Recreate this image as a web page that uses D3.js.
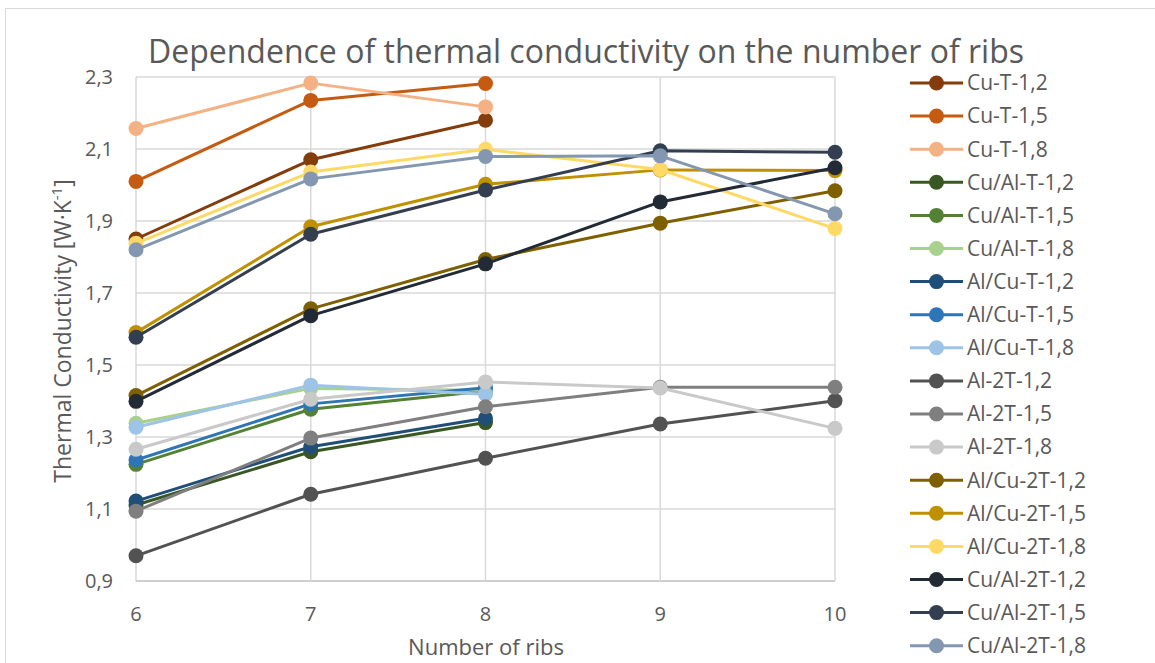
<!DOCTYPE html>
<html>
<head>
<meta charset="utf-8">
<script src="https://cdn.jsdelivr.net/npm/d3@7"></script>
<style>
body { margin: 0; background: #fff; }
text { font-family: "Open Sans", "Noto Sans", sans-serif; fill: #595959; }
</style>
</head>
<body>
<svg id="chart" width="1155" height="663"></svg>
<script>
var ribs = [6, 7, 8, 9, 10];
var yTicks = [0.9, 1.1, 1.3, 1.5, 1.7, 1.9, 2.1, 2.3];

var names = ["Cu-T-1,2", "Cu-T-1,5", "Cu-T-1,8",
  "Cu/Al-T-1,2", "Cu/Al-T-1,5", "Cu/Al-T-1,8",
  "Al/Cu-T-1,2", "Al/Cu-T-1,5", "Al/Cu-T-1,8",
  "Al-2T-1,2", "Al-2T-1,5", "Al-2T-1,8",
  "Al/Cu-2T-1,2", "Al/Cu-2T-1,5", "Al/Cu-2T-1,8",
  "Cu/Al-2T-1,2", "Cu/Al-2T-1,5", "Cu/Al-2T-1,8"];

var colors = ["#843c0c", "#c55a11", "#f4b183",
  "#385723", "#548235", "#a9d18e",
  "#1f4e79", "#2e75b6", "#9dc3e6",
  "#525252", "#7f7f7f", "#c9c9c9",
  "#7f6000", "#bf9000", "#ffd966",
  "#222a35", "#333f50", "#8497b0"];

// T series only measured for 6..8 ribs
var cuT12 = [1.85, 2.07, 2.18];
var cuT15 = [2.01, 2.235, 2.282];
var cuT18 = [2.157, 2.283, 2.217];
var cuAlT12 = [1.111, 1.259, 1.340];
var cuAlT15 = [1.224, 1.377, 1.428];
var cuAlT18 = [1.338, 1.435, 1.430];
var alCuT12 = [1.122, 1.273, 1.352];
var alCuT15 = [1.236, 1.392, 1.437];
var alCuT18 = [1.327, 1.444, 1.419];
var al2T12 = [0.970, 1.141, 1.241, 1.336, 1.401];
var al2T15 = [1.094, 1.297, 1.384, 1.438, 1.438];
var al2T18 = [1.266, 1.405, 1.453, 1.436, 1.324];
var alCu2T12 = [1.415, 1.656, 1.793, 1.894, 1.984];
var alCu2T15 = [1.590, 1.884, 2.002, 2.042, 2.040];
var alCu2T18 = [1.838, 2.036, 2.099, 2.043, 1.879];
var cuAl2T12 = [1.399, 1.637, 1.781, 1.953, 2.048];
var cuAl2T15 = [1.577, 1.863, 1.986, 2.095, 2.091];
var cuAl2T18 = [1.820, 2.017, 2.079, 2.081, 1.920];

var values = [cuT12, cuT15, cuT18, cuAlT12, cuAlT15, cuAlT18,
  alCuT12, alCuT15, alCuT18, al2T12, al2T15, al2T18,
  alCu2T12, alCu2T15, alCu2T18, cuAl2T12, cuAl2T15, cuAl2T18];

var series = names.map(function(n, i) {
  return { name: n, color: colors[i],
    pts: values[i].map(function(v, j) { return { x: ribs[j], y: v }; }) };
});

var svg = d3.select("#chart");
var comma = function(d) { return d3.format(".1f")(d).replace(".", ","); };

// outer chart frame
svg.append("rect").attr("x", 5.5).attr("y", 8.5).attr("width", 1160).attr("height", 670)
  .attr("fill", "none").attr("stroke", "#d9d9d9").attr("stroke-width", 1);

var x = d3.scaleLinear().domain([6, 10]).range([136, 835]);
var y = d3.scaleLinear().domain([0.9, 2.3]).range([581, 77]);

// gridlines
svg.append("g").selectAll("line").data(yTicks).enter().append("line")
  .attr("x1", x(6)).attr("x2", x(10))
  .attr("y1", function(d) { return y(d); }).attr("y2", function(d) { return y(d); })
  .attr("stroke", function(d) { return d == 0.9 ? "#bfbfbf" : "#d9d9d9"; })
  .attr("stroke-width", 1.5);
svg.append("g").selectAll("line").data(ribs).enter().append("line")
  .attr("x1", function(d) { return x(d); }).attr("x2", function(d) { return x(d); })
  .attr("y1", y(2.3)).attr("y2", y(0.9))
  .attr("stroke", "#d9d9d9").attr("stroke-width", 1.5);

// tick labels
svg.append("g").selectAll("text").data(yTicks).enter().append("text")
  .attr("x", 113).attr("y", function(d) { return y(d); }).attr("dy", "0.35em")
  .attr("text-anchor", "end").style("font-size", "20px").text(comma);
svg.append("g").selectAll("text").data(ribs).enter().append("text")
  .attr("x", function(d) { return x(d); }).attr("y", 621)
  .attr("text-anchor", "middle").style("font-size", "20px").text(function(d) { return d; });

// titles
svg.append("text").attr("x", 586).attr("y", 63).attr("text-anchor", "middle")
  .style("font-size", "32px").text("Dependence of thermal conductivity on the number of ribs");
svg.append("text").attr("x", 486).attr("y", 655).attr("text-anchor", "middle")
  .style("font-size", "22px").text("Number of ribs");
var yt = svg.append("text").attr("transform", "translate(71,331) rotate(-90)")
  .attr("text-anchor", "middle").style("font-size", "23px");
yt.append("tspan").text("Thermal Conductivity [W·K");
yt.append("tspan").attr("dy", -9).style("font-size", "15px").text("-1");
yt.append("tspan").attr("dy", 9).text("]");

// lines + markers
var line = d3.line().x(function(d) { return x(d.x); }).y(function(d) { return y(d.y); });
var g = svg.selectAll("g.series").data(series).enter().append("g").attr("class", "series");
g.append("path").attr("d", function(d) { return line(d.pts); })
  .attr("fill", "none").attr("stroke", function(d) { return d.color; })
  .attr("stroke-width", 3).attr("stroke-linejoin", "round");
g.selectAll("circle").data(function(d) { return d.pts.map(function(p) { return { p: p, c: d.color }; }); })
  .enter().append("circle")
  .attr("cx", function(d) { return x(d.p.x); }).attr("cy", function(d) { return y(d.p.y); })
  .attr("r", 7.5).attr("fill", function(d) { return d.c; });

// legend
var leg = svg.selectAll("g.leg").data(series).enter().append("g").attr("class", "leg")
  .attr("transform", function(d, i) { return "translate(910," + (83 + i * 33.1) + ")"; });
leg.append("line").attr("x1", 0).attr("x2", 53).attr("stroke", function(d) { return d.color; })
  .attr("stroke-width", 3);
leg.append("circle").attr("cx", 26.5).attr("r", 7.5).attr("fill", function(d) { return d.color; });
leg.append("text").attr("x", 57).attr("dy", "0.35em").style("font-size", "21px")
  .text(function(d) { return d.name; });
</script>
</body>
</html>
